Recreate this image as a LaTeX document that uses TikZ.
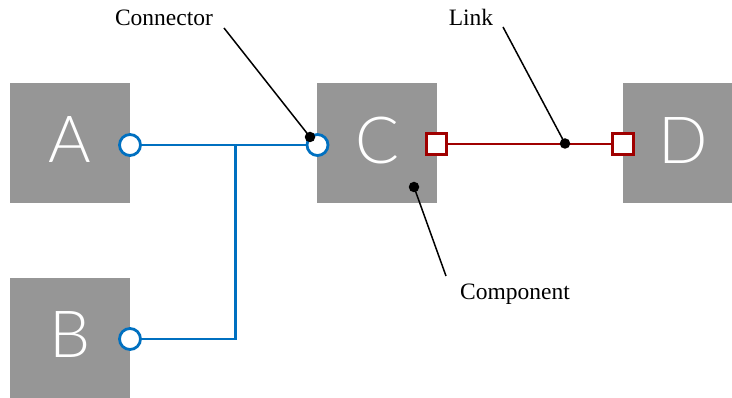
\documentclass[tikz,border=0pt]{standalone}
\usepackage{fontspec}
\setmainfont{Liberation Serif}
\newfontfamily\boxfont{Lato Light}
\definecolor{compgrey}{HTML}{969696}
\definecolor{bluec}{HTML}{0070C0}
\definecolor{redc}{HTML}{A00000}
\begin{document}
\begin{tikzpicture}[x=1pt,y=-1pt,
  comp/.style={fill=compgrey, draw=none, minimum size=120pt, inner sep=0pt, outer sep=0pt},
  letter/.style={anchor=base, text=white, inner sep=0pt, font=\boxfont\fontsize{65}{65}\selectfont},
  cport/.style={circle, draw=bluec, fill=white, line width=2.8pt, minimum size=21pt, inner sep=0pt},
  sport/.style={rectangle, draw=redc, fill=white, line width=2.8pt, minimum size=20.5pt, inner sep=0pt},
  blueline/.style={draw=bluec, line width=2.8pt},
  redline/.style={draw=redc, line width=2.4pt},
  lbl/.style={anchor=base, inner sep=0pt, font=\fontsize{23.5}{23.5}\selectfont},
  leader/.style={draw=black, line width=1.5pt},
  dot/.style={circle, fill=black, minimum size=10.5pt, inner sep=0pt}]
\useasboundingbox (0,0) rectangle (732,398);
\clip (0,0) rectangle (732,398);
% components
\node[comp] (A) at (70,143) {};
\node[comp] (B) at (70,338) {};
\node[comp] (C) at (377,143) {};
\node[comp] (D) at (683,143) {};
\node[letter] (tA) at (70,163) {A};
\node[letter] (tB) at (70,358) {B};
\node[letter] (tC) at (377,164) {C};
\node[letter] (tD) at (683,164) {D};
% junction and connectors
\coordinate (j) at (235.7,145);
\coordinate (pAc) at (130,145);
\coordinate (pBc) at (130,339);
\coordinate (pCc) at (317.5,145);
\coordinate (pC2c) at (436.5,144);
\coordinate (pDc) at (623,144);
\draw[blueline] (pAc) -- (pCc);
\draw[blueline] (pBc) -| (j);
\draw[redline] (pC2c) -- (pDc);
% ports
\node[cport] (pA) at (pAc) {};
\node[cport] (pB) at (pBc) {};
\node[cport] (pC) at (pCc) {};
\node[sport] (pC2) at (pC2c) {};
\node[sport] (pD) at (pDc) {};
% labels
\node[lbl] (lConn) at (164,26) {Connector};
\node[lbl] (lLink) at (471,26) {Link};
\node[lbl] (lComp) at (515,300) {Component};
\coordinate (eConn) at (224,28);
\coordinate (eLink) at (503,27);
\coordinate (eComp) at (446,276);
\node[dot] (dConn) at (310,137) {};
\node[dot] (dLink) at (565,143.5) {};
\node[dot] (dComp) at (414,187) {};
\draw[leader] (eConn) -- (dConn.center);
\draw[leader] (eLink) -- (dLink.center);
\draw[leader] (eComp) -- (dComp.center);
\end{tikzpicture}
\end{document}
